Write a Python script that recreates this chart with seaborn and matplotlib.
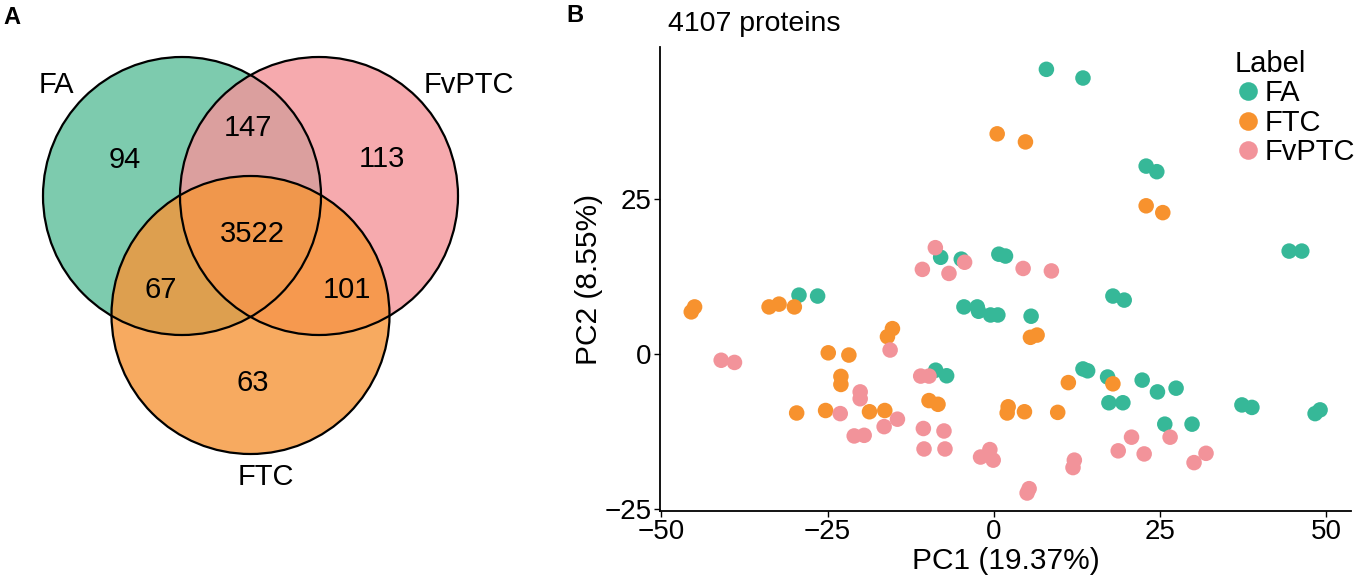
import numpy as np
import pandas as pd
import matplotlib
matplotlib.use('Agg')
import matplotlib.pyplot as plt
from matplotlib.patches import Circle
import seaborn as sns

# Venn counts (panel A)
set_names = ['FA', 'FvPTC', 'FTC']
region_names = ['FA', 'FvPTC', 'FTC', 'FA&FvPTC', 'FA&FTC', 'FvPTC&FTC', 'all']
region_counts = [94, 113, 63, 147, 67, 101, 3522]
n_proteins = 4107

# PCA scores (panel B)
fa_x = [7.9, 13.4, 22.9, 24.5, 44.4, 46.3, -8.0, -4.9, 0.75, 1.75, 17.9, 19.6,
        -29.3, -26.5, -4.5, -2.5, -2.3, -0.5, 0.6, 5.6, -8.75, -7.1, 13.4, 14.1,
        17.1, 22.3, 24.6, 27.4, 17.3, 19.4, 37.3, 38.8, 48.3, 49.05, 25.7, 29.8]
fa_y = [45.9, 44.5, 30.3, 29.4, 16.6, 16.6, 15.6, 15.3, 16.1, 15.8, 9.35, 8.7,
        9.5, 9.35, 7.6, 7.6, 6.9, 6.3, 6.3, 6.1, -2.6, -3.5, -2.4, -2.7,
        -3.7, -4.2, -6.1, -5.5, -7.85, -7.85, -8.2, -8.6, -9.6, -9.0, -11.3, -11.3]

ftc_x = [0.5, 4.75, 22.9, 25.4, -45.0, -45.5, -33.8, -32.3, -30.0, -15.25,
         -16.0, -24.9, -21.8, -23.0, -23.0, 5.5, 6.5, -29.65, -25.3, -18.7,
         -16.4, -9.75, -8.4, 2.15, 2.0, 4.6, 9.6, 11.2, 17.9]
ftc_y = [35.5, 34.2, 23.9, 22.8, 7.6, 6.8, 7.6, 8.05, 7.6, 4.1,
         2.8, 0.2, -0.16, -3.6, -4.9, 2.7, 3.06, -9.5, -9.1, -9.3,
         -9.1, -7.5, -8.1, -8.5, -9.5, -9.3, -9.4, -4.6, -4.8]

fvptc_x = [-8.8, -10.75, -6.75, -4.4, 4.4, 8.65, -15.6, -41.0, -39.0, -11.0,
           -9.75, -23.1, -20.1, -20.1, -16.5, -14.5, -21.0, -19.5, -10.6, -7.5,
           -10.5, -7.35, -2.0, -0.6, -0.1, 5.3, 5.0, 12.1, 11.9, 20.7,
           18.7, 22.6, 26.5, 30.1, 31.9]
fvptc_y = [17.15, 13.65, 13.0, 14.8, 13.8, 13.4, 0.65, -1.0, -1.35, -3.55,
           -3.55, -9.6, -6.1, -7.2, -11.7, -10.5, -13.2, -13.1, -12.0, -12.4,
           -15.3, -15.3, -16.6, -15.4, -17.1, -21.7, -22.4, -17.1, -18.3, -13.4,
           -15.6, -16.1, -13.4, -17.5, -16.0]

df = pd.DataFrame({
    'PC1': fa_x + ftc_x + fvptc_x,
    'PC2': fa_y + ftc_y + fvptc_y,
    'Label': ['FA'] * len(fa_x) + ['FTC'] * len(ftc_x) + ['FvPTC'] * len(fvptc_x),
})

sns.set_theme(style='white')
plt.rcParams['font.family'] = ['Liberation Sans', 'DejaVu Sans']
plt.rcParams['font.size'] = 21
for key in ['text.color', 'axes.labelcolor', 'xtick.color', 'ytick.color']:
    plt.rcParams[key] = 'black'

W, H = 1358, 586
fig = plt.figure(figsize=(W / 100, H / 100), dpi=100)

# ---- Panel A: Venn diagram (pixel coordinates of this panel) ----
ax_v = fig.add_axes([0, 0, 480 / W, 1])
ax_v.set_xlim(0, 480)
ax_v.set_ylim(H, 0)
ax_v.axis('off')

r = 139
centers = {'FA': (182, 196), 'FvPTC': (319, 196), 'FTC': (250.5, 315)}
fills = {'FA': '#5cbe9a', 'FvPTC': '#f4959a', 'FTC': '#f69538'}
for name in set_names:
    ax_v.add_patch(Circle(centers[name], r, facecolor=fills[name], alpha=0.8,
                          edgecolor='none', zorder=1))
for name in set_names:
    ax_v.add_patch(Circle(centers[name], r, facecolor='none', edgecolor='black',
                          lw=1.6, zorder=2))

label_pos = {'FA': (56, 85), 'FvPTC': (469, 85), 'FTC': (266, 477)}
for name in set_names:
    ax_v.text(*label_pos[name], name, ha='center', va='center', fontsize=21)

count_pos = {'FA': (125, 160), 'FvPTC': (382, 159), 'FTC': (253, 383),
             'FA&FvPTC': (248, 128), 'FA&FTC': (161, 290),
             'FvPTC&FTC': (347, 290), 'all': (252, 234)}
for name, cnt in zip(region_names, region_counts):
    ax_v.text(*count_pos[name], str(cnt), ha='center', va='center', fontsize=21,
              zorder=3)

# ---- Panel B: PCA scatter ----
ax = fig.add_axes([660 / W, 1 - 511 / H, (1351 - 660) / W, (511 - 47) / H])
palette = {'FA': '#36b898', 'FTC': '#f7922e', 'FvPTC': '#f2939a'}
sns.scatterplot(data=df, x='PC1', y='PC2', hue='Label',
                hue_order=['FA', 'FTC', 'FvPTC'], palette=palette,
                s=125, linewidth=0, ax=ax)
ax.set_xlim(-50.2, 53.7)
ax.set_ylim(-25.3, 49.5)
ax.set_xticks([-50, -25, 0, 25, 50])
ax.set_yticks([-25, 0, 25])
sns.despine(ax=ax)
for side in ['left', 'bottom']:
    ax.spines[side].set_color('black')
    ax.spines[side].set_linewidth(1.3)
ax.tick_params(axis='both', which='major', length=4, width=1, color='black',
               labelsize=20, labelcolor='black', pad=2, bottom=True, left=True)
ax.set_xlabel('PC1 (19.37%)', fontsize=21.5, labelpad=1)
ax.set_ylabel('PC2 (8.55%)', fontsize=21.5, labelpad=1)

leg = ax.legend(title='Label', loc='upper left',
                bbox_to_anchor=(1235 / W, 1 - 50 / H),
                bbox_transform=fig.transFigure, frameon=False,
                fontsize=21, title_fontsize=21, alignment='left',
                handletextpad=0.1, labelspacing=0.05, borderpad=0,
                borderaxespad=0, handlelength=0.9, markerscale=1.2)

fig.text(668 / W, 1 - 24 / H, f'{n_proteins} proteins', fontsize=20.5,
         ha='left', va='center')
fig.text(3 / W, 1 - 17 / H, 'A', fontsize=17, fontweight='bold',
         ha='left', va='center')
fig.text(566 / W, 1 - 15 / H, 'B', fontsize=17, fontweight='bold',
         ha='left', va='center')

fig.savefig('out.png', dpi=100)
